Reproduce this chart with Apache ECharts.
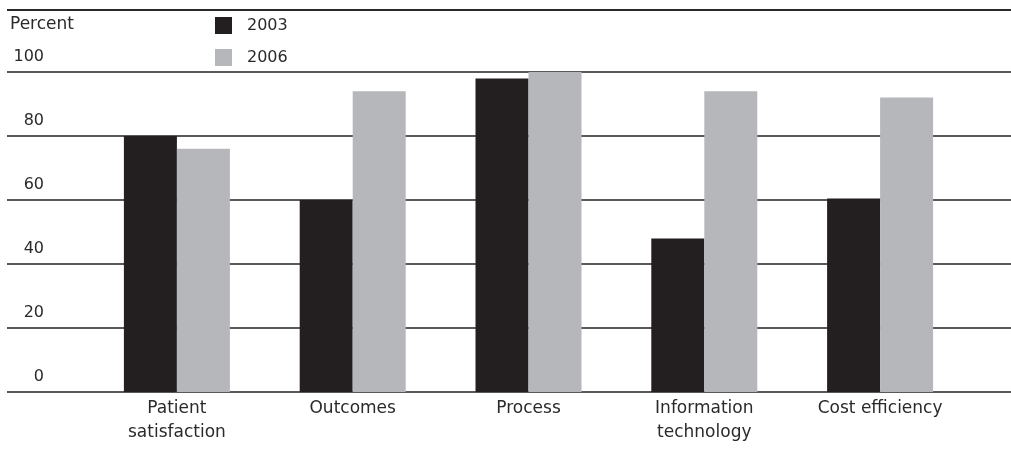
<!DOCTYPE html>
<html>
<head>
<meta charset="utf-8">
<style>
  html, body { margin: 0; padding: 0; background: #ffffff; }
  #chart { width: 1011px; height: 451px; }
</style>
<script src="https://cdn.jsdelivr.net/npm/echarts@6/dist/echarts.min.js"></script>
</head>
<body>
<div id="chart"></div>
<script>
const categories = ['Patient\nsatisfaction', 'Outcomes', 'Process', 'Information\ntechnology', 'Cost efficiency'];
const values2003 = [80, 60, 98, 48, 60.5];
const values2006 = [76, 94, 100, 94, 92];
const seriesNames = ['2003', '2006'];
const yTicks = { min: 0, max: 100, interval: 20 };
const yAxisTitle = 'Percent';

const FONT = 'DejaVu Sans';
const TEXT = '#2a2a2a';

const chart = echarts.init(document.getElementById('chart'), null, { renderer: 'canvas' });
chart.setOption({
  animation: false,
  backgroundColor: '#ffffff',
  textStyle: { fontFamily: FONT },
  legend: {
    data: seriesNames,
    orient: 'vertical',
    left: 215,
    top: 17,
    padding: 0,
    icon: 'rect',
    itemWidth: 17,
    itemHeight: 17,
    itemGap: 15,
    textStyle: { fontFamily: FONT, fontSize: 16, color: TEXT, lineHeight: 17, padding: [0, 0, 0, 10] }
  },
  graphic: [{
    type: 'line',
    shape: { x1: 7, y1: 10, x2: 1011, y2: 10 },
    style: { stroke: '#2a2a2a', lineWidth: 2 }
  }],
  grid: [
    { left: 7, right: 0, top: 72, bottom: 59, containLabel: false },
    { left: 89, right: 43, top: 72, bottom: 59, containLabel: false }
  ],
  xAxis: [
    { type: 'category', gridIndex: 0, data: categories, show: false },
    {
      type: 'category', gridIndex: 1, data: categories,
      axisLine: { show: false }, axisTick: { show: false },
      axisLabel: { interval: 0, margin: 5, fontFamily: FONT, fontSize: 17, lineHeight: 24, color: TEXT }
    }
  ],
  yAxis: [
    {
      type: 'value', gridIndex: 0, min: yTicks.min, max: yTicks.max, interval: yTicks.interval,
      name: yAxisTitle, nameLocation: 'end', nameGap: 47,
      nameTextStyle: { align: 'left', verticalAlign: 'middle', fontFamily: FONT, fontSize: 17, color: TEXT, padding: [0, 0, 0, 3] },
      axisLine: { show: false }, axisTick: { show: false },
      splitLine: { show: true, lineStyle: { color: '#222222', width: 1.5 } },
      axisLabel: {
        inside: true, margin: 37, align: 'right', verticalAlign: 'bottom',
        fontFamily: FONT, fontSize: 16, lineHeight: 17, color: TEXT, padding: [0, 0, 7, 0]
      }
    },
    { type: 'value', gridIndex: 1, min: yTicks.min, max: yTicks.max, show: false, splitLine: { show: false } }
  ],
  series: [
    {
      name: seriesNames[0], type: 'bar', xAxisIndex: 1, yAxisIndex: 1,
      data: values2003, barWidth: 53, barGap: '0%',
      itemStyle: { color: '#231f20' }
    },
    {
      name: seriesNames[1], type: 'bar', xAxisIndex: 1, yAxisIndex: 1,
      data: values2006, barWidth: 53, barGap: '0%',
      itemStyle: { color: '#b6b7ba' }
    }
  ]
});
</script>
</body>
</html>
